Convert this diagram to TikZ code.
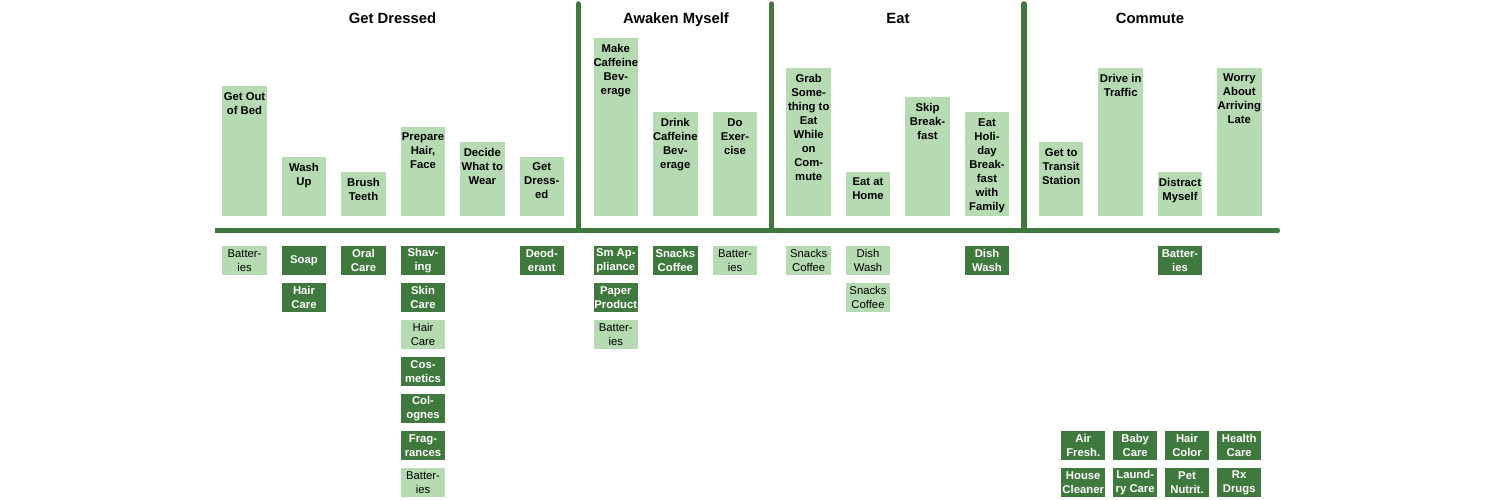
\documentclass[tikz,border=0pt]{standalone}
\usepackage{fontspec}
\setmainfont{Liberation Sans}
\definecolor{dkg}{RGB}{64,121,62}
\definecolor{ltg}{RGB}{182,218,178}
\newcommand{\ub}[4]{\node[upb, minimum height={216-#3}] (#1) at (#2,#3) {};
  \node[upt] (#1t) at (#1.north) {#4};}
\newcommand{\lbx}[5]{\node[#2] (#1) at (#3,#4) {#5};}
\begin{document}
\begin{tikzpicture}[x=1pt,y=-1pt,
 upb/.style={fill=ltg, anchor=north, minimum width=44.5pt, inner sep=0pt},
 upt/.style={anchor=north, align=center, inner xsep=0pt, inner ysep=6pt, text=black, font=\fontsize{11.3}{14}\selectfont\bfseries},
 lob/.style={minimum width=44.5pt, minimum height=29.5pt, inner sep=0pt, align=center},
 dk/.style={lob, fill=dkg, text=white, font=\fontsize{11.3}{14}\selectfont\bfseries},
 lt/.style={lob, fill=ltg, text=black, font=\fontsize{11.3}{14}\selectfont},
 ttl/.style={anchor=base, font=\fontsize{14.8}{17}\selectfont\bfseries},
 axis/.style={draw=dkg, line width=5.5pt}]
\useasboundingbox (0,0) rectangle (1500,500);
% axes
\coordinate (hL) at (215,230.5);
\coordinate (hR) at (1277.3,230.5);
\draw[axis, line cap=butt] (hL) -- (hR);
\fill[dkg] (hR) circle (2.75);
\coordinate (v1t) at (578.3,4); \coordinate (v1b) at (578.3,230.5);
\coordinate (v2t) at (771.7,4); \coordinate (v2b) at (771.7,230.5);
\coordinate (v3t) at (1024,4);  \coordinate (v3b) at (1024,230.5);
\draw[axis, line cap=round] (v1t) -- (v1b);
\draw[axis, line cap=round] (v2t) -- (v2b);
\draw[axis, line cap=round] (v3t) -- (v3b);
% titles
\node[ttl] (t1) at (392.5,24) {Get Dressed};
\node[ttl] (t2) at (676,24) {Awaken Myself};
\node[ttl] (t3) at (898,24) {Eat};
\node[ttl] (t4) at (1150,24) {Commute};
% upper boxes
\ub{a1}{244.5}{86}{Get Out\\of Bed}
\ub{a2}{304}{156.7}{Wash\\Up}
\ub{a3}{363.5}{171.7}{Brush\\Teeth}
\ub{a4}{423}{127}{Prepare\\Hair,\\Face}
\ub{a5}{482.3}{142}{Decide\\What to\\Wear}
\ub{a6}{541.8}{156.7}{Get\\Dress-\\ed}
\ub{b1}{615.8}{38.3}{Make\\Caffeine\\Bev-\\erage}
\ub{b2}{675.3}{112.3}{Drink\\Caffeine\\Bev-\\erage}
\ub{b3}{735}{112.3}{Do\\Exer-\\cise}
\ub{c1}{808.7}{68}{Grab\\Some-\\thing to\\Eat\\While\\on\\Com-\\mute}
\ub{c2}{868}{171.7}{Eat at\\Home}
\ub{c3}{927.5}{97}{Skip\\Break-\\fast}
\ub{c4}{987}{112.3}{Eat\\Holi-\\day\\Break-\\fast\\with\\Family}
\ub{d1}{1061.2}{142}{Get to\\Transit\\Station}
\ub{d2}{1120.7}{68}{Drive in\\Traffic}
\ub{d3}{1180}{171.7}{Distract\\Myself}
\ub{d4}{1239.3}{68}{Worry\\About\\Arriving\\Late}
% lower boxes
\lbx{p1}{lt}{244.5}{260.4}{Batter-\\ies}
\lbx{p2}{dk}{304}{260.4}{Soap}
\lbx{p3}{dk}{304}{297.4}{Hair\\Care}
\lbx{p4}{dk}{363.5}{260.4}{Oral\\Care}
\lbx{p5}{dk}{423}{260.4}{Shav-\\ing}
\lbx{p6}{dk}{423}{297.4}{Skin\\Care}
\lbx{p7}{lt}{423}{334.4}{Hair\\Care}
\lbx{p8}{dk}{423}{371.4}{Cos-\\metics}
\lbx{p9}{dk}{423}{408.4}{Col-\\ognes}
\lbx{p10}{dk}{423}{445.4}{Frag-\\rances}
\lbx{p11}{lt}{423}{482.4}{Batter-\\ies}
\lbx{p12}{dk}{541.8}{260.4}{Deod-\\erant}
\lbx{q1}{dk}{615.8}{260.4}{Sm Ap-\\pliance}
\lbx{q2}{dk}{615.8}{297.4}{Paper\\Product}
\lbx{q3}{lt}{615.8}{334.4}{Batter-\\ies}
\lbx{q4}{dk}{675.3}{260.4}{Snacks\\Coffee}
\lbx{q5}{lt}{735}{260.4}{Batter-\\ies}
\lbx{r1}{lt}{808.7}{260.4}{Snacks\\Coffee}
\lbx{r2}{lt}{868}{260.4}{Dish\\Wash}
\lbx{r3}{lt}{868}{297.4}{Snacks\\Coffee}
\lbx{r4}{dk}{987}{260.4}{Dish\\Wash}
\lbx{s1}{dk}{1180}{260.4}{Batter-\\ies}
\lbx{s2}{dk}{1083.2}{445.4}{Air\\Fresh.}
\lbx{s3}{dk}{1135.2}{445.4}{Baby\\Care}
\lbx{s4}{dk}{1187}{445.4}{Hair\\Color}
\lbx{s5}{dk}{1239.2}{445.4}{Health\\Care}
\lbx{s6}{dk}{1083.2}{482.4}{House\\Cleaner}
\lbx{s7}{dk}{1135.2}{482.4}{Laund-\\ry Care}
\lbx{s8}{dk}{1187}{482.4}{Pet\\Nutrit.}
\lbx{s9}{dk}{1239.2}{482.4}{Rx\\Drugs}
\end{tikzpicture}
\end{document}
